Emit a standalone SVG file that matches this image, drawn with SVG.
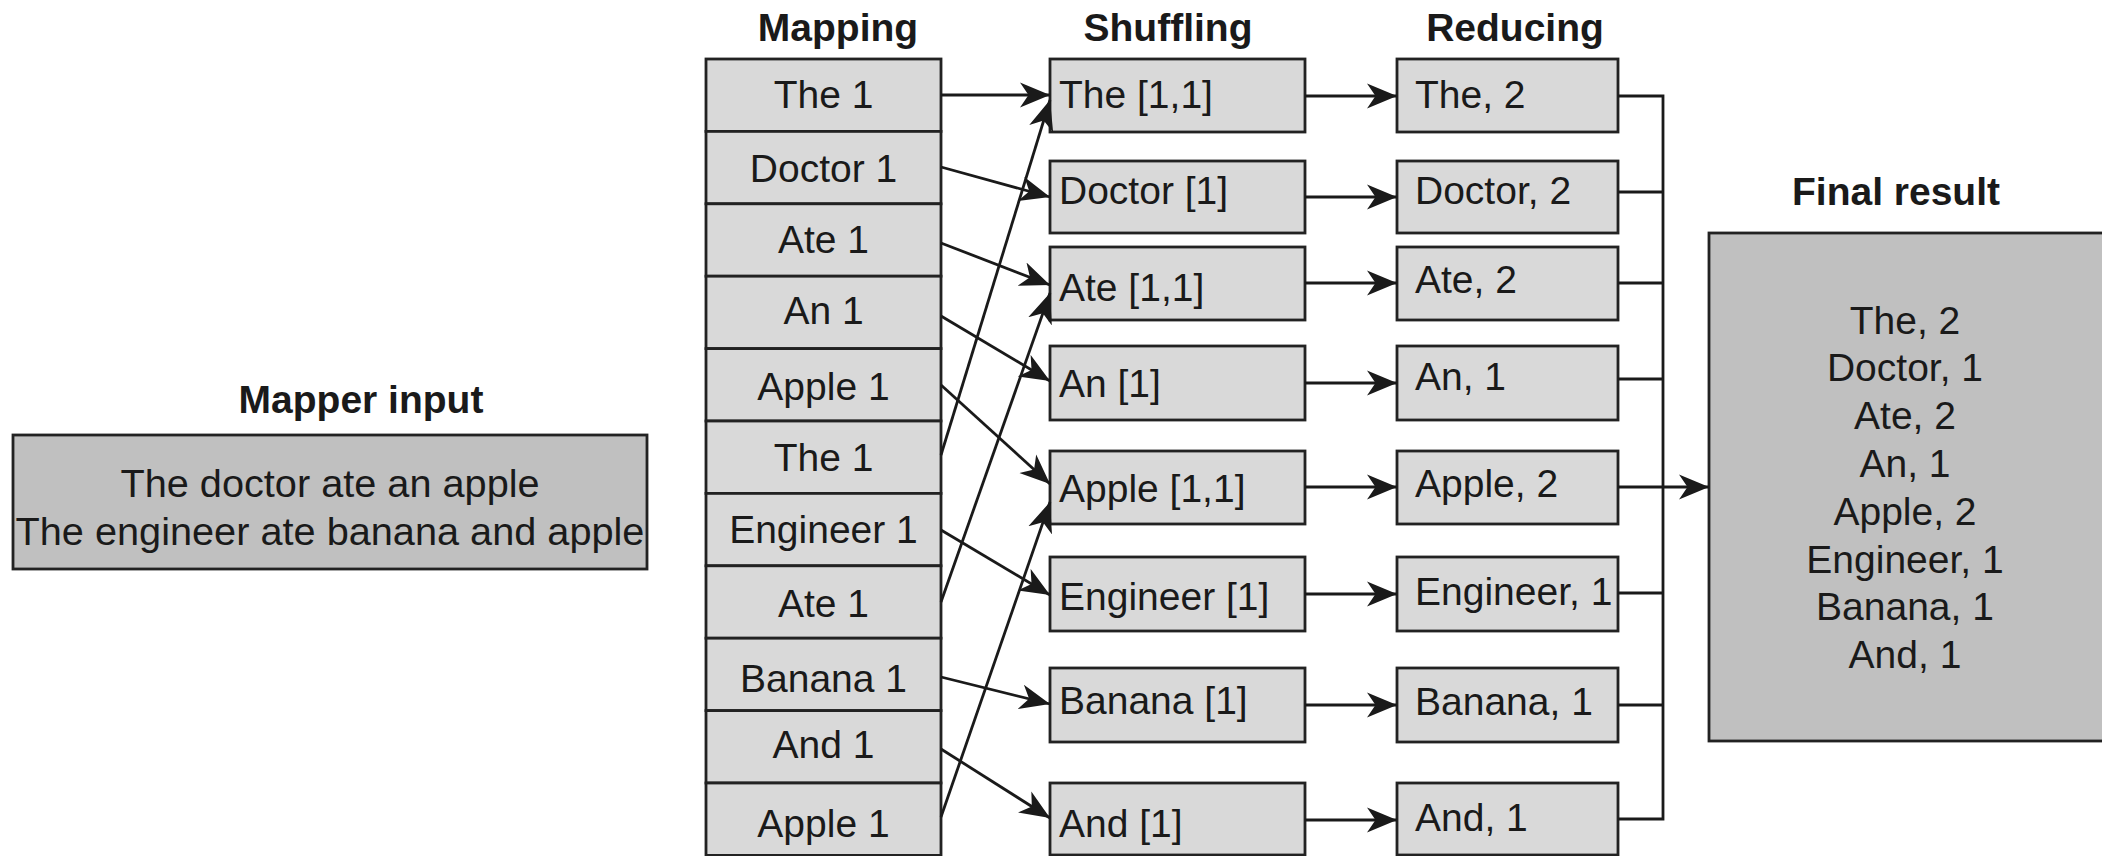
<svg xmlns="http://www.w3.org/2000/svg" width="2102" height="856" viewBox="0 0 2102 856">
  <style>
    text { font-family: "Liberation Sans", Arial, Helvetica, sans-serif; font-size: 39px; fill: #1a1a1a; }
    .title { font-weight: bold; text-anchor: middle; }
    .mid { text-anchor: middle; }
    .wide { font-size: 39.7px; }
    .cell { fill: #d9d9d9; stroke: #222; stroke-width: 2.8; }
    .big { fill: #c0c0c0; stroke: #222; stroke-width: 2.8; }
    .wire { fill: none; stroke: #1a1a1a; stroke-width: 2.8; }
    .arrow { fill: none; stroke: #1a1a1a; stroke-width: 2.8; marker-end: url(#head); }
  </style>
  <defs>
    <marker id="head" viewBox="0 -13 30 26" refX="30" refY="0" markerWidth="30" markerHeight="26" markerUnits="userSpaceOnUse" orient="auto">
      <path d="M0,-12.5 L30,0 L0,12.5 L8.5,0 Z" fill="#1a1a1a"/>
    </marker>
  </defs>
  <rect width="2102" height="856" fill="#ffffff"/>

  <!-- column titles -->
  <g id="titles">
    <text class="title" x="361" y="413">Mapper input</text>
    <text class="title" x="838" y="41">Mapping</text>
    <text class="title" x="1168" y="41">Shuffling</text>
    <text class="title" x="1515" y="41">Reducing</text>
    <text class="title" x="1896" y="205">Final result</text>
  </g>

  <!-- input sentences -->
  <g id="mapper-input">
    <rect class="big" x="13" y="435" width="634" height="134"/>
    <text class="mid wide" x="330" y="497">The doctor ate an apple</text>
    <text class="mid wide" x="330" y="545">The engineer ate banana and apple</text>
  </g>

  <!-- map output: one row per word -->
  <g id="map-the-1"><rect class="cell" x="706" y="59" width="235" height="72.4"/><text class="mid" x="823.5" y="108">The 1</text></g>
  <g id="map-doctor-1"><rect class="cell" x="706" y="131.4" width="235" height="72.4"/><text class="mid" x="823.5" y="182">Doctor 1</text></g>
  <g id="map-ate-1"><rect class="cell" x="706" y="203.8" width="235" height="72.4"/><text class="mid" x="823.5" y="253">Ate 1</text></g>
  <g id="map-an-1"><rect class="cell" x="706" y="276.2" width="235" height="72.4"/><text class="mid" x="823.5" y="324">An 1</text></g>
  <g id="map-apple-1"><rect class="cell" x="706" y="348.6" width="235" height="72.4"/><text class="mid" x="823.5" y="400">Apple 1</text></g>
  <g id="map-the-2"><rect class="cell" x="706" y="421" width="235" height="72.4"/><text class="mid" x="823.5" y="471">The 1</text></g>
  <g id="map-engineer-1"><rect class="cell" x="706" y="493.4" width="235" height="72.4"/><text class="mid" x="823.5" y="543">Engineer 1</text></g>
  <g id="map-ate-2"><rect class="cell" x="706" y="565.8" width="235" height="72.4"/><text class="mid" x="823.5" y="617">Ate 1</text></g>
  <g id="map-banana-1"><rect class="cell" x="706" y="638.2" width="235" height="72.4"/><text class="mid" x="823.5" y="692">Banana 1</text></g>
  <g id="map-and-1"><rect class="cell" x="706" y="710.6" width="235" height="72.4"/><text class="mid" x="823.5" y="758">And 1</text></g>
  <g id="map-apple-2"><rect class="cell" x="706" y="783" width="235" height="72.4"/><text class="mid" x="823.5" y="837">Apple 1</text></g>

  <!-- shuffled groups -->
  <g id="shuf-the"><rect class="cell" x="1050" y="59" width="255" height="73"/><text x="1059" y="108">The [1,1]</text></g>
  <g id="shuf-doctor"><rect class="cell" x="1050" y="161" width="255" height="72"/><text x="1059" y="204">Doctor [1]</text></g>
  <g id="shuf-ate"><rect class="cell" x="1050" y="247" width="255" height="73"/><text x="1059" y="301">Ate [1,1]</text></g>
  <g id="shuf-an"><rect class="cell" x="1050" y="346" width="255" height="74"/><text x="1059" y="397">An [1]</text></g>
  <g id="shuf-apple"><rect class="cell" x="1050" y="451" width="255" height="73"/><text x="1059" y="502">Apple [1,1]</text></g>
  <g id="shuf-engineer"><rect class="cell" x="1050" y="557" width="255" height="74"/><text x="1059" y="610">Engineer [1]</text></g>
  <g id="shuf-banana"><rect class="cell" x="1050" y="668" width="255" height="74"/><text x="1059" y="714">Banana [1]</text></g>
  <g id="shuf-and"><rect class="cell" x="1050" y="783" width="255" height="72"/><text x="1059" y="837">And [1]</text></g>

  <!-- reduced counts -->
  <g id="red-the"><rect class="cell" x="1397" y="59" width="221" height="73"/><text x="1415" y="108">The, 2</text></g>
  <g id="red-doctor"><rect class="cell" x="1397" y="161" width="221" height="72"/><text x="1415" y="204">Doctor, 2</text></g>
  <g id="red-ate"><rect class="cell" x="1397" y="247" width="221" height="73"/><text x="1415" y="293">Ate, 2</text></g>
  <g id="red-an"><rect class="cell" x="1397" y="346" width="221" height="74"/><text x="1415" y="390">An, 1</text></g>
  <g id="red-apple"><rect class="cell" x="1397" y="451" width="221" height="73"/><text x="1415" y="497">Apple, 2</text></g>
  <g id="red-engineer"><rect class="cell" x="1397" y="557" width="221" height="74"/><text x="1415" y="605">Engineer, 1</text></g>
  <g id="red-banana"><rect class="cell" x="1397" y="668" width="221" height="74"/><text x="1415" y="715">Banana, 1</text></g>
  <g id="red-and"><rect class="cell" x="1397" y="783" width="221" height="72"/><text x="1415" y="831">And, 1</text></g>

  <!-- combined output -->
  <g id="final-result">
    <rect class="big" x="1709" y="233" width="410" height="508"/>
    <text class="mid" x="1905" y="334">The, 2</text>
    <text class="mid" x="1905" y="381">Doctor, 1</text>
    <text class="mid" x="1905" y="429">Ate, 2</text>
    <text class="mid" x="1905" y="477">An, 1</text>
    <text class="mid" x="1905" y="525">Apple, 2</text>
    <text class="mid" x="1905" y="573">Engineer, 1</text>
    <text class="mid" x="1905" y="620">Banana, 1</text>
    <text class="mid" x="1905" y="668">And, 1</text>
  </g>

  <g id="connectors">
    <!-- map -> shuffle -->
    <line class="arrow" x1="941" y1="95" x2="1050" y2="95"/>
    <line class="arrow" x1="941" y1="167" x2="1050" y2="197"/>
    <line class="arrow" x1="941" y1="243" x2="1050" y2="285"/>
    <line class="arrow" x1="941" y1="316" x2="1050" y2="381"/>
    <line class="arrow" x1="941" y1="385" x2="1050" y2="484"/>
    <line class="arrow" x1="941" y1="455" x2="1050" y2="100"/>
    <line class="arrow" x1="941" y1="530" x2="1050" y2="595"/>
    <line class="arrow" x1="941" y1="602" x2="1050" y2="293"/>
    <line class="arrow" x1="941" y1="677" x2="1050" y2="704"/>
    <line class="arrow" x1="941" y1="749" x2="1050" y2="818"/>
    <line class="arrow" x1="941" y1="817" x2="1050" y2="502"/>
    <!-- shuffle -> reduce -->
    <line class="arrow" x1="1305" y1="96" x2="1397" y2="96"/>
    <line class="arrow" x1="1305" y1="197" x2="1397" y2="197"/>
    <line class="arrow" x1="1305" y1="283" x2="1397" y2="283"/>
    <line class="arrow" x1="1305" y1="383" x2="1397" y2="383"/>
    <line class="arrow" x1="1305" y1="487" x2="1397" y2="487"/>
    <line class="arrow" x1="1305" y1="594" x2="1397" y2="594"/>
    <line class="arrow" x1="1305" y1="705" x2="1397" y2="705"/>
    <line class="arrow" x1="1305" y1="820" x2="1397" y2="820"/>
    <!-- reduce -> collecting bus -> final result -->
    <path class="wire" d="M1618,96 H1663 V819 H1618"/>
    <path class="wire" d="M1618,192 H1663 M1618,283 H1663 M1618,379 H1663 M1618,593 H1663 M1618,705 H1663"/>
    <line class="arrow" x1="1618" y1="487" x2="1709" y2="487"/>
  </g>
</svg>
